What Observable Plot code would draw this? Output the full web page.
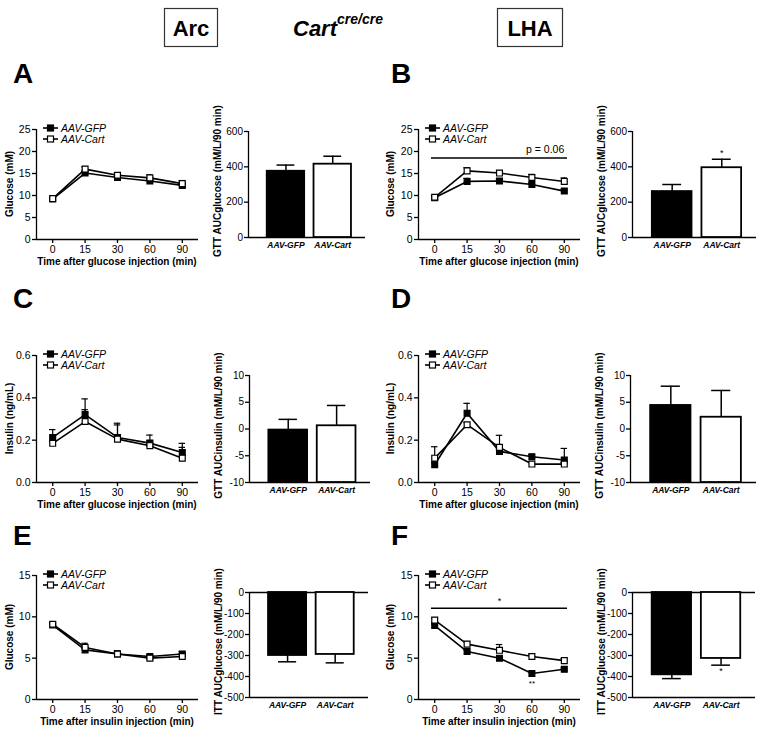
<!DOCTYPE html>
<html>
<head>
<meta charset="utf-8">
<script src="https://cdn.jsdelivr.net/npm/d3@7"></script>
<script src="https://cdn.jsdelivr.net/npm/@observablehq/plot@0.6"></script>
<style>
html,body{margin:0;padding:0;background:#fff;}
#root{position:relative;width:758px;height:732px;overflow:hidden;background:#fff;font-family:'Liberation Sans',Arial,sans-serif;}
#root svg{position:absolute;overflow:visible;}
.barx [aria-label="x-axis tick label"] text{font-weight:bold;font-style:italic;}
</style>
</head>
<body>
<div id="root"></div>
<script>
// ---------- data ----------
const times = ["0", "15", "30", "60", "90"];
const groups = ["AAV-GFP", "AAV-Cart"];

// A: GTT glucose, Arc
const aGfp = [9.2, 15.1, 14.1, 13.3, 12.3];
const aGfpErr = [0.3, 0.4, 0.3, 0.4, 0.3];
const aCart = [9.3, 16.0, 14.6, 14.0, 12.7];
const aCartErr = [0.4, 0.5, 0.5, 0.7, 0.7];
const aAuc = [375, 415];
const aAucErr = [35, 45];

// B: GTT glucose, LHA
const bGfp = [9.5, 13.2, 13.3, 12.5, 11.0];
const bGfpErr = [0.3, 0.7, 0.4, 0.4, 0.4];
const bCart = [9.6, 15.6, 15.1, 14.1, 13.2];
const bCartErr = [0.3, 0.7, 0.5, 0.7, 0.8];
const bAuc = [260, 395];
const bAucErr = [40, 48];

// C: GTT insulin, Arc
const cGfp = [0.213, 0.321, 0.213, 0.186, 0.142];
const cGfpErr = [0.037, 0.074, 0.067, 0.038, 0.043];
const cCart = [0.185, 0.288, 0.205, 0.174, 0.115];
const cCartErr = [0.01, 0.056, 0.067, 0.023, 0.051];
const cAuc = [-0.2, 0.6];
const cAucErr = [2.0, 3.8];

// D: GTT insulin, LHA
const dGfp = [0.084, 0.327, 0.147, 0.122, 0.106];
const dGfpErr = [0.01, 0.047, 0.01, 0.01, 0.055];
const dCart = [0.115, 0.273, 0.166, 0.087, 0.087];
const dCartErr = [0.054, 0.01, 0.057, 0.008, 0.008];
const dAuc = [4.4, 2.2];
const dAucErr = [3.6, 5.0];

// E: ITT glucose, Arc
const eGfp = [9.0, 6.0, 5.5, 5.2, 5.5];
const eGfpErr = [0.25, 0.2, 0.2, 0.2, 0.3];
const eCart = [9.1, 6.3, 5.5, 5.0, 5.2];
const eCartErr = [0.2, 0.5, 0.4, 0.2, 0.3];
const eAuc = [-300, -295];
const eAucErr = [30, 40];

// F: ITT glucose, LHA
const fGfp = [8.95, 5.8, 5.0, 3.15, 3.65];
const fGfpErr = [0.2, 0.2, 0.15, 0.2, 0.15];
const fCart = [9.6, 6.7, 5.95, 5.2, 4.7];
const fCartErr = [0.25, 0.3, 0.7, 0.3, 0.25];
const fAuc = [-392, -314];
const fAucErr = [18, 32];

// tick labels
const gttGlucoseTicks = [0, 5, 10, 15, 20, 25];
const insulinTicks = [0, 0.2, 0.4, 0.6];
const ittGlucoseTicks = [0, 5, 10, 15];
const gttAucTicks = [0, 200, 400, 600];
const insulinAucTicks = [-10, -5, 0, 5, 10];
const ittAucTicks = [0, -100, -200, -300, -400, -500];

// significance annotations
const bSig = [{from: "0", to: "90", y: 18.5, label: "p = 0.06"}];
const fSig = [{from: "0", to: "90", y: 11.05, label: "*", at: "30"}];
const fPointStars = [{t: "60", y: 2.0, label: "**"}];
const bAucStars = [{g: "AAV-Cart", y: 478, label: "*"}];
const fAucStars = [{g: "AAV-Cart", y: -372, label: "*"}];

// ---------- drawing ----------
const FONT = "'Liberation Sans', Arial, Helvetica, sans-serif";
const root = document.getElementById("root");
const lineXDomain = [-0.5, 4.5];
const barXDomain = [-0.8, 1.7];
const baseStyle = {fontFamily: FONT, fontSize: "10px", color: "black", background: "transparent", overflow: "visible"};

function place(plot, left, top, cls) {
  plot.style.left = left + "px";
  plot.style.top = top + "px";
  if (cls) plot.classList.add(cls);
  root.appendChild(plot);
}

function lineChart(p) {
  const [x0, y0, x1, y1] = p.frame;
  const mL = 34, mR = 6, mT = 6, mB = 20;
  const series = [
    {g: groups[0], v: p.gfp, e: p.gfpErr, fill: "black"},
    {g: groups[1], v: p.cart, e: p.cartErr, fill: "white"}
  ];
  const data = series.flatMap(s => s.v.map((v, i) => ({i, v, top: v + s.e[i], g: s.g, fill: s.fill})));
  const sig = (p.sig || []).map(s => ({...s, i1: times.indexOf(s.from) - 0.1, i2: times.indexOf(s.to) + 0.1, ie: times.indexOf(s.to), ia: s.at ? times.indexOf(s.at) : null}));
  const pstars = (p.pointStars || []).map(s => ({...s, i: times.indexOf(s.t)}));
  const marks = [
    Plot.ruleY([p.yDomain[0]], {stroke: "black", strokeWidth: 1.3}),
    Plot.ruleX([lineXDomain[0]], {stroke: "black", strokeWidth: 1.3}),
    Plot.axisX({ticks: times.map((t, i) => i), tickFormat: i => times[i], tickSize: 4, tickPadding: 2, fontSize: 10.5, strokeWidth: 1.3, label: null}),
    Plot.axisY({ticks: p.yTicks, tickFormat: p.yFormat, tickSize: 4, tickPadding: 2, fontSize: 10.5, strokeWidth: 1.3, label: null}),
    Plot.ruleX(data, {x: "i", y1: "v", y2: "top", stroke: "black", strokeWidth: 1.2}),
    Plot.ruleY(data, {y: "top", x1: d => d.i - 0.1, x2: d => d.i + 0.1, stroke: "black", strokeWidth: 1.2}),
    Plot.line(data, {x: "i", y: "v", z: "g", stroke: "black", strokeWidth: 1.6}),
    Plot.dot(data, {x: "i", y: "v", symbol: "square", r: 3.3, fill: "fill", stroke: "black", strokeWidth: 1.2}),
    Plot.ruleY(sig, {y: "y", x1: "i1", x2: "i2", stroke: "black", strokeWidth: 1.5}),
    Plot.text(sig.filter(s => s.ia === null), {x: "ie", y: "y", text: "label", textAnchor: "end", dy: -8, fontSize: 10.5}),
    Plot.text(sig.filter(s => s.ia !== null), {x: "ia", y: "y", text: "label", dy: -7, fontSize: 9}),
    Plot.text(pstars, {x: "i", y: "y", text: "label", fontSize: 8})
  ];
  const plot = Plot.plot({
    width: x1 - x0 + mL + mR, height: y1 - y0 + mT + mB,
    marginLeft: mL, marginRight: mR, marginTop: mT, marginBottom: mB,
    x: {domain: lineXDomain}, y: {domain: p.yDomain}, color: {type: "identity"},
    style: baseStyle, marks
  });
  place(plot, x0 - mL, y0 - mT);
}

function barChart(p) {
  const [x0, y0, x1, y1] = p.frame;
  const mL = 30, mR = 4, mT = 6, mB = 16;
  const dir = p.down ? -1 : 1;
  const data = groups.map((g, i) => ({i, g, v: p.values[i], end: p.values[i] + dir * p.errs[i], base: p.base, fill: i === 0 ? "black" : "white"}));
  const stars = (p.stars || []).map(s => ({...s, i: groups.indexOf(s.g)}));
  const marks = [
    Plot.ruleX([barXDomain[0]], {stroke: "black", strokeWidth: 1.3}),
    Plot.ruleY(p.hLines, {stroke: "black", strokeWidth: 1.3}),
    Plot.axisY({ticks: p.yTicks, tickFormat: d => String(d), tickSize: 4, tickPadding: 1.5, fontSize: 10, strokeWidth: 1.3, label: null}),
    Plot.axisX({ticks: [0, 1], tickFormat: i => groups[i], tickSize: 0, tickPadding: 4, fontSize: 8.5, fontWeight: "bold", fontStyle: "italic", label: null}),
    Plot.ruleX(data, {x: "i", y1: "v", y2: "end", stroke: "black", strokeWidth: 1.5}),
    Plot.ruleY(data, {y: "end", x1: d => d.i - 0.19, x2: d => d.i + 0.19, stroke: "black", strokeWidth: 1.5}),
    Plot.rect(data, {x1: d => d.i - 0.4, x2: d => d.i + 0.4, y1: "base", y2: "v", fill: "fill", stroke: "black", strokeWidth: 1.8}),
    Plot.text(stars, {x: "i", y: "y", text: "label", fontSize: 9})
  ];
  const plot = Plot.plot({
    width: x1 - x0 + mL + mR, height: y1 - y0 + mT + mB,
    marginLeft: mL, marginRight: mR, marginTop: mT, marginBottom: mB,
    x: {domain: barXDomain}, y: {domain: p.yDomain}, color: {type: "identity"},
    style: baseStyle, marks
  });
  place(plot, x0 - mL, y0 - mT, "barx");
}

const f1 = d => String(d);
const f2 = d => d.toFixed(1);

const panels = [
  {line: {frame: [36, 129, 198, 239], gfp: aGfp, gfpErr: aGfpErr, cart: aCart, cartErr: aCartErr, yDomain: [0, 25], yTicks: gttGlucoseTicks, yFormat: f1},
   bar: {frame: [248, 131, 365, 237], values: aAuc, errs: aAucErr, yDomain: [0, 600], yTicks: gttAucTicks, base: 0, hLines: [0]},
   letter: "A", ylab: "Glucose (mM)", xlab: "Time after glucose injection (min)", blab: "GTT AUCglucose (mM/L/90 min)", col: 0},
  {line: {frame: [418, 129, 580, 239], gfp: bGfp, gfpErr: bGfpErr, cart: bCart, cartErr: bCartErr, yDomain: [0, 25], yTicks: gttGlucoseTicks, yFormat: f1, sig: bSig},
   bar: {frame: [632, 131, 756, 237], values: bAuc, errs: bAucErr, yDomain: [0, 600], yTicks: gttAucTicks, base: 0, hLines: [0], stars: bAucStars},
   letter: "B", ylab: "Glucose (mM)", xlab: "Time after glucose injection (min)", blab: "GTT AUCglucose (mM/L/90 min)", col: 1},
  {line: {frame: [36, 355, 198, 482], gfp: cGfp, gfpErr: cGfpErr, cart: cCart, cartErr: cCartErr, yDomain: [0, 0.6], yTicks: insulinTicks, yFormat: f2},
   bar: {frame: [249, 375, 370, 482], values: cAuc, errs: cAucErr, yDomain: [-10, 10], yTicks: insulinAucTicks, base: -10, hLines: [-10]},
   letter: "C", ylab: "Insulin (ng/mL)", xlab: "Time after glucose injection (min)", blab: "GTT AUCinsulin (mM/L/90 min)", col: 0},
  {line: {frame: [418, 355, 580, 482], gfp: dGfp, gfpErr: dGfpErr, cart: dCart, cartErr: dCartErr, yDomain: [0, 0.6], yTicks: insulinTicks, yFormat: f2},
   bar: {frame: [630, 375, 756, 482], values: dAuc, errs: dAucErr, yDomain: [-10, 10], yTicks: insulinAucTicks, base: -10, hLines: [-10]},
   letter: "D", ylab: "Insulin (ng/mL)", xlab: "Time after glucose injection (min)", blab: "GTT AUCinsulin (mM/L/90 min)", col: 1},
  {line: {frame: [36, 575, 198, 699], gfp: eGfp, gfpErr: eGfpErr, cart: eCart, cartErr: eCartErr, yDomain: [0, 15], yTicks: ittGlucoseTicks, yFormat: f1},
   bar: {frame: [249, 592, 368, 697], values: eAuc, errs: eAucErr, yDomain: [-500, 0], yTicks: ittAucTicks, base: 0, down: true, hLines: [-500, 0]},
   letter: "E", ylab: "Glucose (mM)", xlab: "Time after insulin injection (min)", blab: "ITT AUCglucose (mM/L/90 min)", col: 0},
  {line: {frame: [418, 575, 580, 699], gfp: fGfp, gfpErr: fGfpErr, cart: fCart, cartErr: fCartErr, yDomain: [0, 15], yTicks: ittGlucoseTicks, yFormat: f1, sig: fSig, pointStars: fPointStars},
   bar: {frame: [632, 592, 755, 697], values: fAuc, errs: fAucErr, yDomain: [-500, 0], yTicks: ittAucTicks, base: 0, down: true, hLines: [-500, 0], stars: fAucStars},
   letter: "F", ylab: "Glucose (mM)", xlab: "Time after insulin injection (min)", blab: "ITT AUCglucose (mM/L/90 min)", col: 1}
];

panels.forEach(p => { lineChart(p.line); barChart(p.bar); });

// ---------- overlay: titles, letters, axis titles, legends ----------
const ov = d3.select(root).append("svg").attr("width", 758).attr("height", 732).style("left", "0px").style("top", "0px");
function txt(x, y, s, o = {}) {
  const t = ov.append("text").attr("x", x).attr("y", y).text(s)
    .attr("font-family", FONT).attr("font-size", o.size || 10)
    .attr("font-weight", o.weight || "normal").attr("font-style", o.style || "normal")
    .attr("text-anchor", o.anchor || "start").attr("fill", "black");
  if (o.db) t.attr("dominant-baseline", o.db);
  if (o.rotate) t.attr("transform", `rotate(${o.rotate},${x},${y})`);
  return t;
}

// header
ov.append("rect").attr("x", 164.5).attr("y", 8.5).attr("width", 53).attr("height", 38).attr("fill", "none").attr("stroke", "#333").attr("stroke-width", 1.2);
txt(191, 36, "Arc", {size: 22, weight: "bold", anchor: "middle"});
ov.append("rect").attr("x", 497.5).attr("y", 8.5).attr("width", 65).attr("height", 38).attr("fill", "none").attr("stroke", "#333").attr("stroke-width", 1.2);
txt(530, 36, "LHA", {size: 22, weight: "bold", anchor: "middle"});
const ct = txt(293, 36, "Cart", {size: 22, weight: "bold", style: "italic"});
ct.append("tspan").attr("dy", -12).attr("font-size", 14).text("cre/cre");

panels.forEach(p => {
  const [lx0, ly0, lx1, ly1] = p.line.frame;
  const [bx0, by0, bx1, by1] = p.bar.frame;
  const letterX = p.col === 0 ? 13 : 391;
  const letterY = ly0 < 200 ? 83 : ly0 < 500 ? 308 : 545;
  txt(letterX, letterY, p.letter, {size: 28, weight: "bold"});
  // line chart axis titles
  txt(p.col === 0 ? 9 : 390, (ly0 + ly1) / 2, p.ylab, {size: 10, weight: "bold", anchor: "middle", db: "central", rotate: -90});
  txt((lx0 + lx1) / 2, ly1 + 26, p.xlab, {size: 10, weight: "bold", anchor: "middle"});
  // bar chart axis title
  txt(bx0 - 31, (by0 + by1) / 2 - 3, p.blab, {size: 10, weight: "bold", anchor: "middle", db: "central", rotate: -90});
  // legend
  groups.forEach((g, k) => {
    const cy = ly0 - 1 + k * 11;
    ov.append("line").attr("x1", lx0 + 7).attr("x2", lx0 + 22).attr("y1", cy).attr("y2", cy).attr("stroke", "black").attr("stroke-width", 1.6);
    ov.append("rect").attr("x", lx0 + 11.5).attr("y", cy - 3).attr("width", 6).attr("height", 6)
      .attr("fill", k === 0 ? "black" : "white").attr("stroke", "black").attr("stroke-width", 1.2);
    txt(lx0 + 25, cy, g, {size: 10.5, style: "italic", db: "central"});
  });
});
</script>
</body>
</html>
